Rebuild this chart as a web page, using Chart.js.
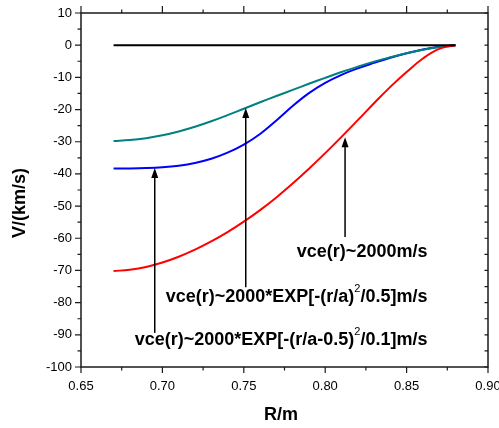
<!DOCTYPE html>
<html>
<head>
<meta charset="utf-8">
<script src="https://cdn.jsdelivr.net/npm/chart.js@4.4.1/dist/chart.umd.min.js"></script>
<style>
  body { margin: 0; background: #fff; }
  #wrap { width: 499px; height: 428px; }
</style>
</head>
<body>
<div id="wrap"><canvas id="profileChart" width="499" height="428"></canvas></div>
<script>
// R/m sample points
const radius = [0.67, 0.68, 0.69, 0.70, 0.71, 0.72, 0.73, 0.74, 0.75, 0.76, 0.77,
                0.78, 0.79, 0.80, 0.81, 0.82, 0.83, 0.84, 0.85, 0.86, 0.87, 0.88];

// V/(km/s)
const vZero = [0, 0, 0, 0, 0, 0, 0, 0, 0, 0, 0, 0, 0, 0, 0, 0, 0, 0, 0, 0, 0, 0];
const vTeal = [-29.8, -29.5, -28.9, -28.0, -26.8, -25.35, -23.65, -21.75, -19.75, -17.75, -15.8,
               -13.9, -12.0, -10.15, -8.35, -6.65, -5.1, -3.75, -2.5, -1.4, -0.55, 0];
const vBlue = [-38.3, -38.3, -38.2, -37.95, -37.45, -36.6, -35.3, -33.4, -30.9, -27.6, -23.4,
               -18.9, -14.9, -11.7, -9.2, -7.2, -5.5, -3.9, -2.5, -1.35, -0.5, 0];
const vRed  = [-70.2, -69.75, -68.9, -67.55, -65.75, -63.55, -61.0, -58.1, -54.85, -51.25, -47.3,
               -43.0, -38.4, -33.55, -28.5, -23.3, -18.05, -12.95, -8.35, -4.15, -1.15, 0];

const xTicks = [0.65, 0.70, 0.75, 0.80, 0.85, 0.90];
const yTicks = [10, 0, -10, -20, -30, -40, -50, -60, -70, -80, -90, -100];

// annotation arrows (data coords): x, tail, head
const arrowX    = [0.6953, 0.7512, 0.8122];
const arrowTail = [-89.4, -75.2, -59.6];
const arrowHead = [-38.2, -19.5, -28.6];

// annotation labels, right edge at noteRight, centred on noteY
const noteRight = 0.8628;
const noteY = [-64.2, -78.2, -91.6];
const noteParts = [
  [['vce(r)~2000m/s', false]],
  [['vce(r)~2000*EXP[-(r/a)', false], ['2', true], ['/0.5]m/s', false]],
  [['vce(r)~2000*EXP[-(r/a-0.5)', false], ['2', true], ['/0.1]m/s', false]]
];

const toPts = ys => radius.map((r, i) => ({ x: r, y: ys[i] }));

const FONT = 'Arial, "Liberation Sans", sans-serif';

const decor = {
  id: 'decor',
  afterDraw(chart) {
    const ctx = chart.ctx;
    const xs = chart.scales.x, ys = chart.scales.y;
    const { left, right, top, bottom } = chart.chartArea;
    ctx.save();

    // frame
    ctx.strokeStyle = '#1a1a1a';
    ctx.lineWidth = 1.5;
    ctx.strokeRect(left, top, right - left, bottom - top);

    // ticks
    ctx.lineWidth = 1.2;
    ctx.beginPath();
    xTicks.forEach((v, i) => {
      const px = xs.getPixelForValue(v);
      ctx.moveTo(px, bottom); ctx.lineTo(px, bottom + 6);
      ctx.moveTo(px, top); ctx.lineTo(px, top - 7);
      if (i < xTicks.length - 1) {
        const mx = xs.getPixelForValue((v + xTicks[i + 1]) / 2);
        ctx.moveTo(mx, bottom); ctx.lineTo(mx, bottom + 3.5);
        ctx.moveTo(mx, top); ctx.lineTo(mx, top - 3.5);
      }
    });
    yTicks.forEach((v, i) => {
      const py = ys.getPixelForValue(v);
      ctx.moveTo(left, py); ctx.lineTo(left - 6, py);
      ctx.moveTo(right, py); ctx.lineTo(right - 3.5, py);
      if (i < yTicks.length - 1) {
        const my = ys.getPixelForValue((v + yTicks[i + 1]) / 2);
        ctx.moveTo(left, my); ctx.lineTo(left - 3.5, my);
        ctx.moveTo(right, my); ctx.lineTo(right - 3.5, my);
      }
    });
    ctx.stroke();

    // arrows
    ctx.strokeStyle = '#000';
    ctx.fillStyle = '#000';
    ctx.lineWidth = 1.5;
    arrowX.forEach((x, i) => {
      const px = xs.getPixelForValue(x);
      const y0 = ys.getPixelForValue(arrowTail[i]);
      const y1 = ys.getPixelForValue(arrowHead[i]);
      ctx.beginPath();
      ctx.moveTo(px, y0); ctx.lineTo(px, y1 + 8);
      ctx.stroke();
      ctx.beginPath();
      ctx.moveTo(px, y1);
      ctx.lineTo(px - 3.5, y1 + 10);
      ctx.lineTo(px + 3.5, y1 + 10);
      ctx.closePath();
      ctx.fill();
    });

    // notes
    ctx.textBaseline = 'middle';
    ctx.textAlign = 'left';
    const big = 'bold 18px ' + FONT, sup = '11px ' + FONT;
    noteParts.forEach((parts, i) => {
      let w = 0;
      parts.forEach(([t, s]) => { ctx.font = s ? sup : big; w += ctx.measureText(t).width; });
      let px = xs.getPixelForValue(noteRight) - w;
      const py = ys.getPixelForValue(noteY[i]);
      parts.forEach(([t, s]) => {
        ctx.font = s ? sup : big;
        ctx.fillText(t, px, s ? py - 8 : py);
        px += ctx.measureText(t).width;
      });
    });

    // axis titles
    ctx.font = 'bold 18px ' + FONT;
    ctx.textAlign = 'center';
    ctx.fillText('R/m', 281, 415);
    ctx.translate(20, 203);
    ctx.rotate(-Math.PI / 2);
    ctx.fillText('V/(km/s)', 0, 0);
    ctx.restore();
  }
};

const lineStyle = (color) => ({
  borderColor: color, backgroundColor: color, borderWidth: 2,
  pointRadius: 0, fill: false, tension: 0.4
});

new Chart(document.getElementById('profileChart'), {
  type: 'line',
  data: {
    datasets: [
      { label: 'zero', data: toPts(vZero), ...lineStyle('#000000') },
      { label: 'vce const', data: toPts(vRed), ...lineStyle('#ff0000') },
      { label: 'vce gauss 0.5', data: toPts(vTeal), ...lineStyle('#008080') },
      { label: 'vce gauss 0.1', data: toPts(vBlue), ...lineStyle('#0000ff') }
    ]
  },
  options: {
    responsive: false,
    animation: false,
    devicePixelRatio: 1,
    layout: { padding: { left: 0, top: 13, right: 11, bottom: 0 } },
    plugins: { legend: { display: false }, tooltip: { enabled: false } },
    scales: {
      x: {
        type: 'linear', min: 0.65, max: 0.90,
        afterBuildTicks: s => { s.ticks = xTicks.map(v => ({ value: v })); },
        afterFit: s => { s.height = 61; s.paddingLeft = 0; s.paddingRight = 0; },
        grid: { display: false, drawTicks: false },
        border: { display: false },
        ticks: { color: '#000', padding: 12, font: { family: FONT, size: 13 },
                 callback: v => Number(v).toFixed(2) }
      },
      y: {
        type: 'linear', min: -100, max: 10,
        afterBuildTicks: s => { s.ticks = yTicks.map(v => ({ value: v })); },
        afterFit: s => { s.width = 81; s.paddingTop = 0; s.paddingBottom = 0; },
        grid: { display: false, drawTicks: false },
        border: { display: false },
        ticks: { color: '#000', padding: 9, font: { family: FONT, size: 13 },
                 callback: v => String(v) }
      }
    }
  },
  plugins: [decor]
});
</script>
</body>
</html>
